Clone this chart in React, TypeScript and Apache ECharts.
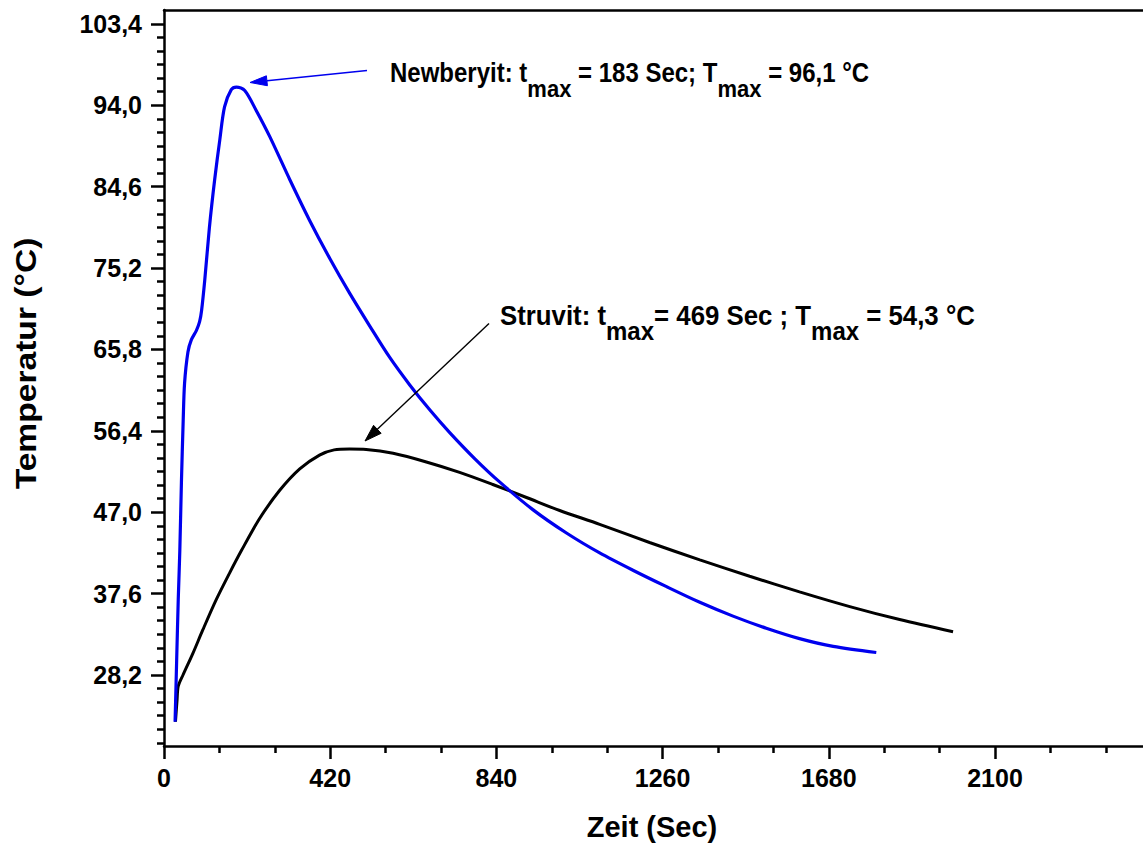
import React, { useEffect, useRef } from "react";
import * as echarts from "echarts";

// Newberyit (blue) – time [s] and temperature [°C]
const newberyitTime = [28, 32, 36, 40, 44, 48.5, 52, 60.5, 69, 82, 90, 95, 103, 115, 128, 141, 153, 170, 183, 204, 233, 267, 318, 368, 419, 469, 520, 570, 621, 672, 722, 785, 848, 932, 1017, 1101, 1185, 1270, 1354, 1438, 1522, 1606, 1691, 1800];
const newberyitTemp = [22.8, 29.9, 36.9, 42.6, 50.4, 57.6, 61.9, 65.5, 66.9, 68.0, 69.0, 70.3, 73.8, 80.0, 85.4, 90.0, 93.8, 95.8, 96.1, 95.7, 93.4, 90.4, 85.4, 80.7, 76.3, 72.3, 68.5, 64.9, 61.7, 58.8, 56.2, 53.2, 50.5, 47.3, 44.6, 42.3, 40.3, 38.4, 36.6, 35.0, 33.6, 32.4, 31.5, 30.8];

// Struvit (black)
const struvitTime = [29, 33, 36, 48, 73, 98, 132, 166, 196, 242, 292, 343, 393, 430, 469, 511, 579, 663, 747, 831, 916, 1000, 1101, 1227, 1354, 1480, 1606, 1733, 1859, 1994];
const struvitTemp = [22.8, 25.3, 26.9, 28.2, 30.7, 33.4, 36.9, 40.0, 42.6, 46.3, 49.5, 52.0, 53.6, 54.2, 54.3, 54.25, 53.8, 52.8, 51.6, 50.2, 48.7, 47.2, 45.6, 43.5, 41.5, 39.6, 37.8, 36.1, 34.6, 33.2];

// Axis ticks
const yMajorTicks = [28.2, 37.6, 47.0, 56.4, 65.8, 75.2, 84.6, 94.0, 103.4];
const yMinorPerMajor = 6;
const xMajorTicks = [0, 420, 840, 1260, 1680, 2100];
const xMinorPerMajor = 3;

const X_MIN = 0;
const X_MAX = 2474;
const Y_MIN = 20.0;
const Y_MAX = 105.0;

const FONT = '"Liberation Sans", Arial, Helvetica, sans-serif';

function zip(a: number[], b: number[]) {
  return a.map((v, i) => [v, b[i]]);
}

function minorTicks(majors: number[], per: number, lo: number, hi: number) {
  const step = majors[1] - majors[0];
  const sub = step / per;
  const out: number[] = [];
  const start = majors[0] - Math.floor((majors[0] - lo) / sub + 1e-9) * sub;
  for (let v = start; v <= hi + 1e-9; v += sub) {
    const isMajor = majors.some((m) => Math.abs(m - v) < 1e-6);
    if (!isMajor) out.push(+v.toFixed(4));
  }
  return out;
}

let measureCtx: CanvasRenderingContext2D | null = null;
function measure(text: string, size: number) {
  if (!measureCtx) measureCtx = document.createElement("canvas").getContext("2d");
  measureCtx!.font = `bold ${size}px "Liberation Sans"`;
  return measureCtx!.measureText(text).width;
}

type Part = { text: string; sub?: boolean };
function richLabel(x0: number, baseY: number, parts: Part[], mainSize: number, subSize: number, subDrop: number, scaleY: number) {
  const els: any[] = [];
  let x = x0;
  for (const p of parts) {
    const fs = p.sub ? subSize : mainSize;
    const base = p.sub ? baseY + subDrop : baseY;
    els.push({
      type: "text",
      x,
      y: base - 0.3465 * fs * scaleY,
      scaleY,
      style: { text: p.text, fontSize: fs, fontWeight: "bold", fontFamily: FONT, fill: "#000", align: "left", verticalAlign: "middle" },
      z: 10,
    });
    x += measure(p.text, fs);
  }
  return els;
}

function arrow(x1: number, y1: number, tx: number, ty: number, color: string, headLen: number, headHalf: number, lw: number) {
  const dx = x1 - tx;
  const dy = y1 - ty;
  const len = Math.hypot(dx, dy);
  const ux = dx / len;
  const uy = dy / len;
  const bx = tx + ux * headLen;
  const by = ty + uy * headLen;
  const px = -uy;
  const py = ux;
  return [
    { type: "line", shape: { x1, y1, x2: bx, y2: by }, style: { stroke: color, lineWidth: lw }, z: 10 },
    {
      type: "polygon",
      shape: { points: [[tx, ty], [bx + px * headHalf, by + py * headHalf], [bx - px * headHalf, by - py * headHalf]] },
      style: { fill: color, stroke: color, lineWidth: 1 },
      z: 10,
    },
  ];
}

export default function App() {
  const ref = useRef<HTMLDivElement>(null);

  useEffect(() => {
    if (!ref.current) return;
    const chart = echarts.init(ref.current, null, { renderer: "svg" });

    const yMinor = minorTicks(yMajorTicks, yMinorPerMajor, Y_MIN, 103.5);
    const xMinor = minorTicks(xMajorTicks, xMinorPerMajor, X_MIN, X_MAX);
    const axisColor = "#000";
    const labelStyle = { color: "#000", fontSize: 25, fontWeight: "bold", fontFamily: FONT };

    const graphics: any[] = [
      ...arrow(367, 70.5, 250, 82.5, "#0000ee", 17, 5, 1.6),
      ...arrow(489, 323.5, 365, 441, "#000", 17, 5.5, 1.4),
      ...richLabel(390, 82, [
        { text: "Newberyit: t" },
        { text: "max", sub: true },
        { text: " = 183 Sec; T" },
        { text: "max", sub: true },
        { text: " = 96,1 °C" },
      ], 24, 22, 15, 1.12),
      ...richLabel(500, 325, [
        { text: "Struvit: t" },
        { text: "max", sub: true },
        { text: "= 469 Sec ; T" },
        { text: "max", sub: true },
        { text: " = 54,3 °C" },
      ], 25.8, 24, 15, 1.05),
      {
        type: "text",
        x: 652,
        y: 827,
        style: { text: "Zeit (Sec)", fontSize: 29, fontWeight: "bold", fontFamily: FONT, fill: "#000", align: "center", verticalAlign: "middle" },
      },
      {
        type: "text",
        x: 26,
        y: 363.5,
        rotation: Math.PI / 2,
        scaleX: 1.12,
        style: { text: "Temperatur (°C)", fontSize: 30, fontWeight: "bold", fontFamily: FONT, fill: "#000", align: "center", verticalAlign: "middle" },
      },
    ];

    chart.setOption({
      animation: false,
      backgroundColor: "#fff",
      grid: { left: 164, right: 0, top: 10, bottom: 98, containLabel: false },
      xAxis: [
        {
          type: "value",
          position: "bottom",
          min: X_MIN,
          max: X_MAX,
          splitLine: { show: false },
          axisLine: { show: true, onZero: false, lineStyle: { color: axisColor, width: 2.5 } },
          axisTick: { show: true, inside: false, length: 13, customValues: xMajorTicks, lineStyle: { color: axisColor, width: 2.5 } },
          axisLabel: { show: true, margin: 19, customValues: xMajorTicks, formatter: (v: number) => String(Math.round(v)), ...labelStyle },
        },
        {
          type: "value",
          position: "bottom",
          min: X_MIN,
          max: X_MAX,
          splitLine: { show: false },
          axisLine: { show: false, onZero: false },
          axisTick: { show: true, inside: false, length: 7, customValues: xMinor, lineStyle: { color: axisColor, width: 2.5 } },
          axisLabel: { show: false },
        },
        {
          type: "value",
          position: "top",
          min: X_MIN,
          max: X_MAX,
          splitLine: { show: false },
          axisLine: { show: true, onZero: false, lineStyle: { color: axisColor, width: 2.5 } },
          axisTick: { show: false },
          axisLabel: { show: false },
        },
      ],
      yAxis: [
        {
          type: "value",
          position: "left",
          min: Y_MIN,
          max: Y_MAX,
          splitLine: { show: false },
          axisLine: { show: true, onZero: false, lineStyle: { color: axisColor, width: 2.5 } },
          axisTick: { show: true, inside: false, length: 13, customValues: yMajorTicks, lineStyle: { color: axisColor, width: 2.5 } },
          axisLabel: { show: true, margin: 22, customValues: yMajorTicks, formatter: (v: number) => v.toFixed(1).replace(".", ","), ...labelStyle },
        },
        {
          type: "value",
          position: "left",
          min: Y_MIN,
          max: Y_MAX,
          splitLine: { show: false },
          axisLine: { show: false, onZero: false },
          axisTick: { show: true, inside: false, length: 7, customValues: yMinor, lineStyle: { color: axisColor, width: 2.5 } },
          axisLabel: { show: false },
        },
      ],
      series: [
        {
          name: "Newberyit",
          type: "line",
          xAxisIndex: 0,
          yAxisIndex: 0,
          data: zip(newberyitTime, newberyitTemp),
          showSymbol: false,
          smooth: 0.3,
          lineStyle: { color: "#0000ee", width: 3.2 },
          itemStyle: { color: "#0000ee" },
          z: 3,
        },
        {
          name: "Struvit",
          type: "line",
          xAxisIndex: 0,
          yAxisIndex: 0,
          data: zip(struvitTime, struvitTemp),
          showSymbol: false,
          smooth: 0.3,
          lineStyle: { color: "#000", width: 3 },
          itemStyle: { color: "#000" },
          z: 2,
        },
      ],
      graphic: graphics,
    });

    return () => chart.dispose();
  }, []);

  return <div ref={ref} style={{ position: "fixed", left: 0, top: 0, width: 1143, height: 844, background: "#fff" }} />;
}
